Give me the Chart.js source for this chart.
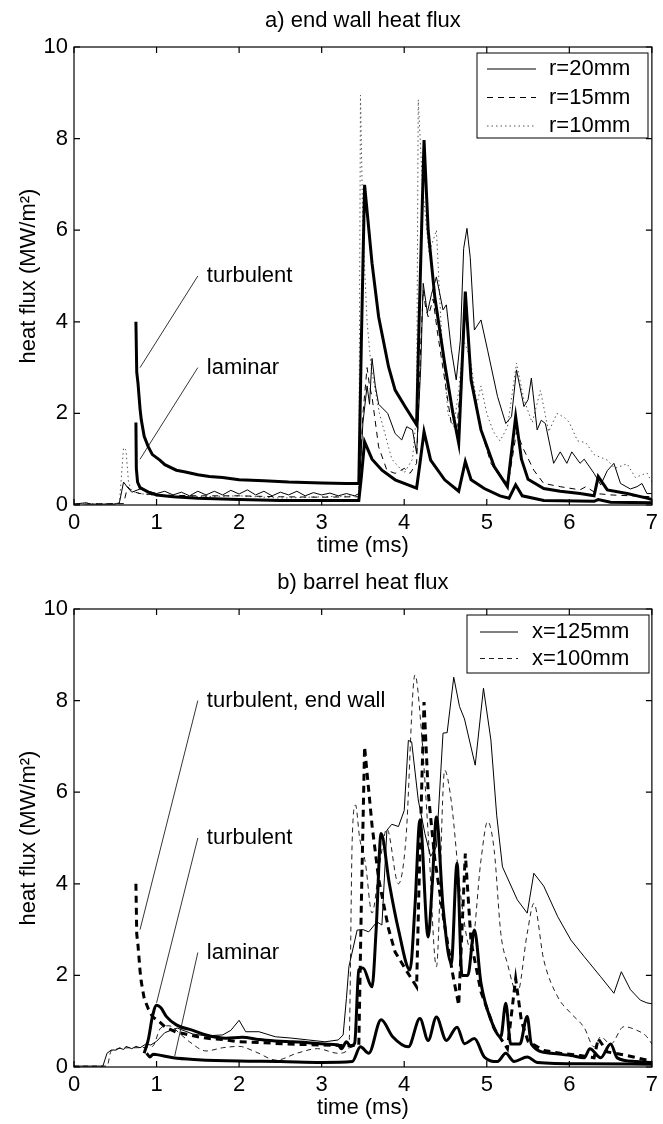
<!DOCTYPE html>
<html>
<head>
<title>Heat flux</title>
<script src="https://cdn.jsdelivr.net/npm/chart.js"></script>
<style>
  body { margin: 0; background: #fff; }
  .panel { width: 663px; height: 562px; }
  canvas { display: block; }
</style>
</head>
<body>
<div class="panel"><canvas id="endWallChart" width="663" height="562"></canvas></div>
<div class="panel"><canvas id="barrelChart" width="663" height="562"></canvas></div>

<script>
// ---- a) end wall heat flux, [time ms, MW/m^2] ----
const endR20 = [[0,0.02],[0.15,0.05],[0.2,0.02],[0.5,0.02],[0.55,0.05],[0.6,0.5],[0.65,0.38],[0.7,0.28],[0.8,0.35],[0.9,0.3],[1.0,0.25],[1.1,0.3],[1.2,0.22],[1.3,0.28],[1.4,0.2],[1.5,0.3],[1.6,0.22],[1.7,0.3],[1.8,0.22],[1.9,0.32],[2.0,0.24],[2.1,0.33],[2.2,0.22],[2.3,0.3],[2.4,0.2],[2.5,0.28],[2.6,0.22],[2.7,0.3],[2.8,0.2],[2.9,0.27],[3.0,0.22],[3.1,0.26],[3.2,0.2],[3.3,0.25],[3.4,0.2],[3.45,0.25],[3.5,1.8],[3.55,2.6],[3.58,2.2],[3.61,3.2],[3.65,2.6],[3.69,2.2],[3.8,2.0],[3.89,1.56],[3.97,1.42],[4.03,1.71],[4.1,1.64],[4.15,1.13],[4.2,3.0],[4.23,4.84],[4.28,4.2],[4.33,4.6],[4.39,4.98],[4.47,4.26],[4.51,4.37],[4.57,3.4],[4.63,2.73],[4.68,3.6],[4.72,5.6],[4.76,6.04],[4.8,5.4],[4.85,3.82],[4.93,4.04],[5.01,3.38],[5.13,2.37],[5.23,1.78],[5.3,1.93],[5.36,2.95],[5.45,2.15],[5.5,2.3],[5.54,2.77],[5.61,1.64],[5.66,1.85],[5.71,1.78],[5.81,0.91],[5.89,1.16],[5.97,0.91],[6.03,1.16],[6.13,0.91],[6.18,1.0],[6.3,0.69],[6.38,0.44],[6.46,0.75],[6.54,0.91],[6.62,0.47],[6.74,0.35],[6.82,0.4],[6.88,0.47],[6.94,0.25],[7,0.25]];
const endR15 = [[0,0.02],[0.6,0.03],[0.65,0.4],[0.7,0.3],[0.8,0.25],[1.0,0.22],[1.5,0.2],[2.0,0.2],[2.5,0.18],[3.0,0.17],[3.45,0.18],[3.5,2.0],[3.55,3.0],[3.58,2.6],[3.61,2.36],[3.69,1.27],[3.79,0.76],[3.89,0.69],[4.0,0.8],[4.07,0.69],[4.15,0.91],[4.2,3.5],[4.23,4.7],[4.26,4.3],[4.29,4.11],[4.35,4.5],[4.4,3.8],[4.47,2.98],[4.57,1.78],[4.64,1.7],[4.7,3.0],[4.75,4.5],[4.81,2.84],[4.93,1.64],[5.05,0.91],[5.16,0.62],[5.26,0.47],[5.36,1.6],[5.45,1.2],[5.57,0.76],[5.69,0.47],[5.89,0.4],[6.13,0.33],[6.2,0.4],[6.33,0.25],[6.5,0.22],[7,0.18]];
const endR10 = [[0,0.02],[0.55,0.03],[0.6,1.25],[0.63,1.2],[0.66,0.5],[0.7,0.3],[0.8,0.25],[1.0,0.2],[1.5,0.18],[2.0,0.2],[2.5,0.15],[3.0,0.18],[3.45,0.2],[3.47,8.95],[3.5,6.0],[3.55,4.0],[3.6,3.0],[3.7,2.0],[3.85,1.0],[4.0,0.7],[4.1,1.0],[4.15,2.0],[4.17,8.85],[4.22,7.0],[4.3,5.5],[4.39,6.0],[4.45,3.8],[4.53,2.0],[4.6,1.7],[4.66,2.5],[4.72,3.6],[4.8,3.2],[4.88,2.2],[4.93,2.6],[5.0,2.0],[5.08,1.6],[5.16,1.4],[5.25,1.7],[5.36,3.1],[5.45,2.3],[5.55,1.8],[5.65,2.5],[5.75,1.6],[5.85,2.0],[5.95,1.9],[6.0,1.8],[6.1,1.4],[6.2,1.36],[6.3,1.1],[6.46,0.98],[6.55,0.8],[6.7,0.9],[6.8,0.6],[6.94,0.7],[7,0.5]];
const endTurbulent = [[0.75,4.0],[0.76,2.9],[0.775,2.66],[0.8,2.1],[0.815,1.86],[0.85,1.5],[0.9,1.27],[0.95,1.1],[1.04,0.98],[1.1,0.88],[1.24,0.76],[1.35,0.72],[1.5,0.66],[1.64,0.62],[1.8,0.6],[2.0,0.55],[2.3,0.53],[2.6,0.5],[3.0,0.48],[3.3,0.47],[3.45,0.47],[3.48,3.5],[3.52,6.99],[3.61,5.28],[3.69,4.11],[3.81,3.02],[3.89,2.51],[4.01,2.15],[4.15,1.75],[4.18,4.0],[4.24,7.97],[4.29,6.0],[4.37,4.55],[4.49,3.09],[4.59,2.0],[4.66,1.35],[4.74,4.66],[4.81,2.73],[4.93,1.64],[5.09,0.84],[5.25,0.4],[5.35,1.93],[5.42,1.0],[5.5,0.56],[5.69,0.36],[5.89,0.3],[6.13,0.25],[6.3,0.2],[6.35,0.62],[6.46,0.33],[6.7,0.25],[6.94,0.15],[7,0.12]];
const endLaminar = [[0.75,1.8],[0.755,0.8],[0.77,0.5],[0.8,0.38],[0.9,0.28],[1.0,0.22],[1.2,0.18],[1.5,0.15],[2.0,0.12],[2.5,0.1],[3.0,0.1],[3.45,0.1],[3.48,0.6],[3.52,1.38],[3.61,1.0],[3.73,0.76],[3.89,0.55],[4.15,0.37],[4.19,0.9],[4.24,1.6],[4.32,0.98],[4.49,0.55],[4.66,0.3],[4.74,0.95],[4.81,0.55],[4.97,0.36],[5.16,0.2],[5.27,0.15],[5.35,0.44],[5.43,0.2],[5.69,0.1],[6.3,0.08],[6.35,0.12],[6.5,0.06],[7,0.05]];

// ---- b) barrel heat flux ----
const barrelX125 = [[0,0.02],[0.35,0.02],[0.4,0.3],[0.45,0.37],[0.51,0.37],[0.55,0.42],[0.6,0.38],[0.63,0.45],[0.7,0.4],[0.75,0.45],[0.8,0.42],[0.87,0.5],[0.93,0.48],[1.0,0.56],[1.1,0.75],[1.25,0.85],[1.44,0.72],[1.6,0.68],[1.8,0.7],[1.9,0.8],[2.0,1.02],[2.08,0.77],[2.24,0.77],[2.44,0.66],[2.64,0.63],[2.84,0.59],[3.04,0.55],[3.2,0.59],[3.26,0.7],[3.3,1.5],[3.33,2.19],[3.43,2.99],[3.5,3.0],[3.57,2.95],[3.67,3.17],[3.73,3.1],[3.79,5.17],[3.85,5.3],[3.93,5.25],[4.0,5.6],[4.05,7.13],[4.09,7.1],[4.17,5.83],[4.25,5.1],[4.32,4.6],[4.39,4.81],[4.47,7.29],[4.52,7.3],[4.6,8.51],[4.67,7.87],[4.73,7.6],[4.86,6.59],[4.96,8.27],[5.05,7.14],[5.12,5.5],[5.19,4.37],[5.37,3.65],[5.49,3.36],[5.57,4.23],[5.69,3.95],[5.86,3.28],[6.02,2.77],[6.18,2.41],[6.38,1.97],[6.54,1.61],[6.63,2.08],[6.74,1.69],[6.86,1.46],[6.94,1.4],[7,1.38]];
const barrelX100 = [[0,0.02],[0.4,0.02],[0.45,0.35],[0.7,0.42],[0.95,0.45],[1.05,0.85],[1.15,0.9],[1.3,0.7],[1.4,0.55],[1.6,0.35],[1.8,0.42],[2.0,0.45],[2.2,0.33],[2.45,0.15],[2.7,0.3],[2.95,0.4],[3.2,0.3],[3.33,0.4],[3.37,4.96],[3.41,5.72],[3.46,5.0],[3.53,4.45],[3.61,3.36],[3.7,4.4],[3.79,5.2],[3.93,4.0],[4.02,4.96],[4.13,8.56],[4.21,7.3],[4.29,5.1],[4.39,2.19],[4.49,6.48],[4.57,5.8],[4.69,3.66],[4.81,2.55],[4.93,4.52],[5.01,5.36],[5.09,4.73],[5.17,2.92],[5.25,2.26],[5.37,1.61],[5.49,2.92],[5.57,3.57],[5.69,2.34],[5.86,1.53],[6.02,1.17],[6.18,0.86],[6.3,0.44],[6.38,0.66],[6.5,0.5],[6.66,0.88],[6.82,0.8],[6.94,0.66],[7,0.5]];
const barrelTurbulent = [[0.85,0.3],[0.9,0.6],[0.95,1.1],[1.0,1.35],[1.05,1.3],[1.12,1.1],[1.24,0.92],[1.44,0.8],[1.6,0.7],[1.84,0.63],[2.04,0.65],[2.24,0.6],[2.44,0.57],[2.64,0.55],[2.84,0.53],[3.04,0.5],[3.2,0.48],[3.24,0.4],[3.3,0.55],[3.35,0.45],[3.4,0.52],[3.45,2.12],[3.5,2.16],[3.61,1.75],[3.66,3.0],[3.72,5.1],[3.82,4.0],[3.93,3.0],[4.07,2.12],[4.13,3.5],[4.19,5.39],[4.29,2.84],[4.34,4.0],[4.39,5.46],[4.47,3.5],[4.57,2.26],[4.64,4.45],[4.7,2.0],[4.77,2.0],[4.85,2.99],[4.93,1.83],[5.05,1.03],[5.17,0.66],[5.23,1.39],[5.29,0.5],[5.4,0.5],[5.49,1.1],[5.54,0.5],[5.78,0.3],[6.02,0.25],[6.18,0.2],[6.25,0.4],[6.38,0.2],[6.5,0.5],[6.58,0.2],[6.8,0.12],[7,0.1]];
const barrelLaminar = [[0.88,0.3],[0.92,0.22],[0.96,0.28],[1.0,0.27],[1.2,0.2],[1.5,0.16],[2.0,0.13],[2.5,0.12],[3.0,0.1],[3.37,0.12],[3.47,0.44],[3.57,0.3],[3.72,1.03],[3.86,0.66],[4.05,0.44],[4.19,1.06],[4.29,0.58],[4.39,1.09],[4.51,0.58],[4.64,0.87],[4.73,0.51],[4.85,0.62],[4.97,0.22],[5.13,0.12],[5.23,0.3],[5.33,0.12],[5.49,0.22],[5.61,0.1],[6.18,0.07],[7,0.06]];

// pointer lines and their labels (data coordinates)
const endNotes = [
  { text: "turbulent", from: [1.5, 5.0], to: [0.8, 3.0] },
  { text: "laminar", from: [1.5, 3.0], to: [0.8, 1.0] },
];
const barrelNotes = [
  { text: "turbulent, end wall", from: [1.5, 8.0], to: [0.8, 3.0] },
  { text: "turbulent", from: [1.5, 5.0], to: [1.0, 1.4] },
  { text: "laminar", from: [1.5, 2.5], to: [1.22, 0.24] },
];

const FONT = '"Liberation Sans", Arial, Helvetica, sans-serif';
const FS = 22;

const xy = (arr) => arr.map(([x, y]) => ({ x, y }));

function series(label, data, width, dash, color, inLegend, smooth) {
  return {
    label: label,
    data: xy(data),
    xAxisID: "x",
    yAxisID: "y",
    borderColor: color || "#000",
    borderWidth: width,
    borderDash: dash || [],
    pointRadius: 0,
    tension: smooth ? 0.4 : 0,
    cubicInterpolationMode: smooth ? "monotone" : "default",
    fill: false,
    inLegend: !!inLegend,
  };
}

function pointers(notes) {
  return notes.map((n) => series("", [n.from, n.to], 0.8));
}

// box around the plot with inward ticks on all four sides
const framePlugin = {
  id: "frame",
  afterDraw(chart) {
    const { ctx, chartArea: a } = chart;
    const sx = chart.scales.x, sy = chart.scales.y;
    const t = 6;
    ctx.save();
    ctx.strokeStyle = "#000";
    ctx.lineWidth = 1.2;
    ctx.strokeRect(a.left, a.top, a.right - a.left, a.bottom - a.top);
    ctx.beginPath();
    sx.ticks.forEach((tk) => {
      const px = sx.getPixelForValue(tk.value);
      ctx.moveTo(px, a.bottom); ctx.lineTo(px, a.bottom - t);
      ctx.moveTo(px, a.top); ctx.lineTo(px, a.top + t);
    });
    sy.ticks.forEach((tk) => {
      const py = sy.getPixelForValue(tk.value);
      ctx.moveTo(a.left, py); ctx.lineTo(a.left + t, py);
      ctx.moveTo(a.right, py); ctx.lineTo(a.right - t, py);
    });
    ctx.stroke();
    ctx.restore();
  },
};

// text labels at the end of the pointer lines
const notesPlugin = {
  id: "notes",
  afterDatasetsDraw(chart, args, opts) {
    const { ctx } = chart;
    const sx = chart.scales.x, sy = chart.scales.y;
    ctx.save();
    ctx.fillStyle = "#000";
    ctx.font = FS + "px " + FONT;
    ctx.textAlign = "left";
    ctx.textBaseline = "middle";
    (opts.notes || []).forEach((n) => {
      const px = sx.getPixelForValue(n.from[0]) + 9;
      const py = sy.getPixelForValue(n.from[1]);
      ctx.fillText(n.text, px, py);
    });
    ctx.restore();
  },
};

// MATLAB style legend box inside the axes
const boxLegend = {
  id: "boxLegend",
  afterDraw(chart, args, o) {
    const { ctx } = chart;
    const items = chart.data.datasets.filter((d) => d.inLegend);
    ctx.save();
    ctx.fillStyle = "#fff";
    ctx.fillRect(o.left, o.top, o.width, o.height);
    ctx.strokeStyle = "#000";
    ctx.lineWidth = 1;
    ctx.strokeRect(o.left, o.top, o.width, o.height);
    items.forEach((d, i) => {
      const yy = o.top + o.firstRow + i * o.rowHeight;
      ctx.beginPath();
      ctx.setLineDash(d.borderDash);
      ctx.strokeStyle = d.borderColor;
      ctx.lineWidth = d.borderWidth;
      ctx.moveTo(o.sampleFrom, yy);
      ctx.lineTo(o.sampleTo, yy);
      ctx.stroke();
      ctx.setLineDash([]);
      ctx.fillStyle = "#000";
      ctx.font = FS + "px " + FONT;
      ctx.textBaseline = "middle";
      ctx.fillText(d.label, o.textX, yy);
    });
    ctx.restore();
  },
};

function makeOptions(title, notes, legendBox) {
  const font = { family: FONT, size: FS };
  return {
    responsive: false,
    animation: false,
    events: [],
    layout: { padding: { left: 0, right: 8, top: 0, bottom: 0 } },
    scales: {
      x: {
        type: "linear",
        min: 0,
        max: 7,
        ticks: { stepSize: 1, padding: 5, color: "#000", font: font, maxRotation: 0 },
        grid: { display: false, drawTicks: false },
        border: { display: false },
        title: { display: true, text: "time (ms)", color: "#000", font: font, padding: { top: 0, bottom: 3 } },
        afterFit(s) { s.height = 57; },
      },
      // top axis only carries the panel title, centred over the plot
      top: {
        type: "linear",
        position: "top",
        min: 0,
        max: 7,
        ticks: { display: false },
        grid: { display: false, drawTicks: false },
        border: { display: false },
        title: { display: true, text: title, color: "#000", font: font, padding: { top: 8, bottom: 0 } },
        afterFit(s) { s.height = 47; },
      },
      y: {
        min: 0,
        max: 10,
        ticks: { stepSize: 2, padding: 6, color: "#000", font: font },
        grid: { display: false, drawTicks: false },
        border: { display: false },
        title: { display: true, text: "heat flux (MW/m²)", color: "#000", font: font, padding: { top: 16, bottom: 0 } },
        afterFit(s) { s.width = 74; },
      },
    },
    plugins: {
      legend: { display: false },
      tooltip: { enabled: false },
      title: { display: false },
      notes: { notes: notes },
      boxLegend: legendBox,
    },
  };
}

new Chart(document.getElementById("endWallChart"), {
  type: "line",
  data: {
    datasets: [
      series("turbulent", endTurbulent, 3),
      series("laminar", endLaminar, 3),
      series("r=20mm", endR20, 1, [], "#000", true),
      series("r=15mm", endR15, 1, [6, 5], "#000", true),
      series("r=10mm", endR10, 1, [1.5, 3], "#555", true),
      ...pointers(endNotes),
    ],
  },
  options: makeOptions("a) end wall heat flux", endNotes, {
    left: 477, top: 53, width: 171, height: 85,
    firstRow: 16, rowHeight: 28.5, sampleFrom: 487, sampleTo: 536, textX: 549,
  }),
  plugins: [framePlugin, notesPlugin, boxLegend],
});

new Chart(document.getElementById("barrelChart"), {
  type: "line",
  data: {
    datasets: [
      series("turbulent, end wall", endTurbulent, 3, [7, 5]),
      series("turbulent", barrelTurbulent, 3, [], "#000", false, true),
      series("laminar", barrelLaminar, 3, [], "#000", false, true),
      series("x=125mm", barrelX125, 1, [], "#000", true),
      series("x=100mm", barrelX100, 1, [5, 4], "#222", true, true),
      ...pointers(barrelNotes),
    ],
  },
  options: makeOptions("b) barrel heat flux", barrelNotes, {
    left: 467, top: 53, width: 182, height: 58,
    firstRow: 17, rowHeight: 26.5, sampleFrom: 480, sampleTo: 518, textX: 532,
  }),
  plugins: [framePlugin, notesPlugin, boxLegend],
});
</script>
</body>
</html>
